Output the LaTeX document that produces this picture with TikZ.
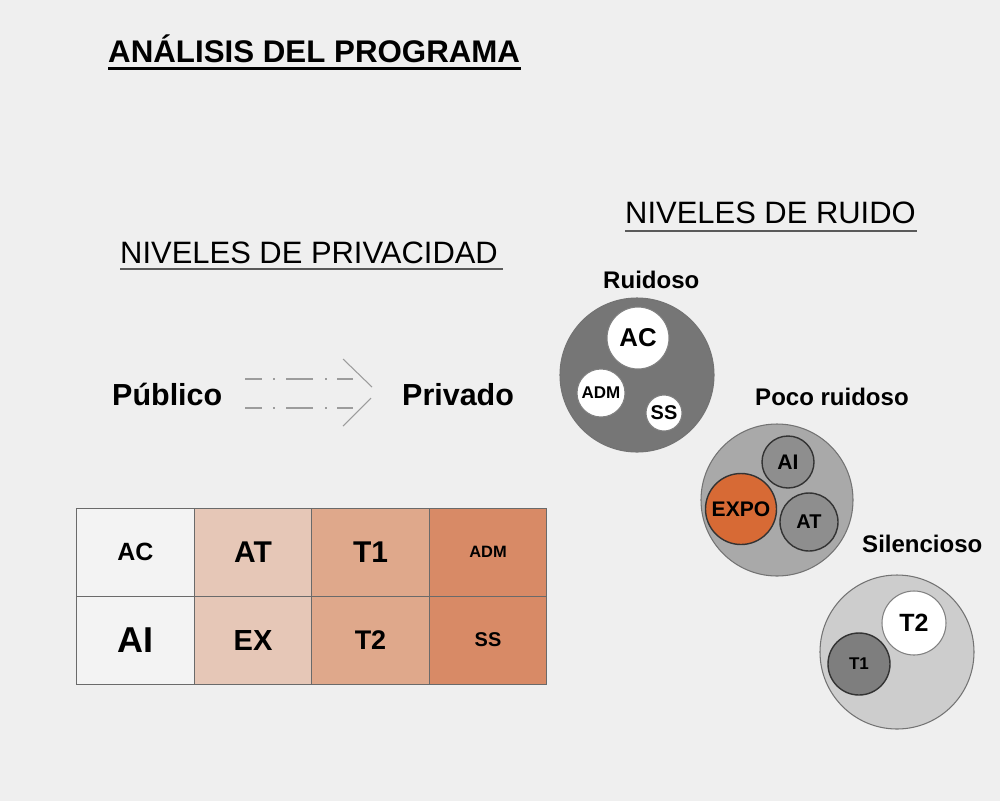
\documentclass[tikz,border=0pt]{standalone}
\usepackage{fontspec}
\setmainfont{Liberation Sans}
\newcommand{\fs}[1]{\fontsize{#1pt}{#1pt}\selectfont}
\definecolor{bgc}{HTML}{EFEFEF}
\definecolor{tbline}{HTML}{6A6A6A}
\definecolor{colA}{HTML}{F3F3F3}
\definecolor{colB}{HTML}{E6C7B7}
\definecolor{colC}{HTML}{DFA88B}
\definecolor{colD}{HTML}{D88A66}
\definecolor{ruidoC}{HTML}{767676}
\definecolor{pocoC}{HTML}{A9A9A9}
\definecolor{silC}{HTML}{CDCDCD}
\definecolor{midC}{HTML}{8E8E8E}
\definecolor{darkC}{HTML}{7E7E7E}
\definecolor{expoC}{HTML}{D76A35}
\definecolor{arrowC}{HTML}{9C9C9C}
\definecolor{ulC}{HTML}{5A5A5A}
\begin{document}
\begin{tikzpicture}[x=0.03cm,y=-0.03cm,
  lbl/.style={inner sep=0pt, anchor=base west},
  cell/.style={draw=tbline, line width=0.8pt, minimum width=3.525cm, minimum height=2.64cm, inner sep=0pt, font=\bfseries},
  circ/.style={circle, inner sep=0pt, minimum size=#1*0.06cm, font=\bfseries},
  bigc/.style={circ=#1, draw=black!55, line width=0.9pt},
  whitec/.style={circ=#1, fill=white, draw=black!50, line width=0.9pt},
  darkc/.style={circ=#1, draw=black!80, line width=1.2pt},
  shaft/.style={draw=arrowC, line width=0.9pt},
  ul/.style={draw=ulC, line width=1.2pt}
]
\fill[bgc] (0,0) rectangle (1000,801);
\useasboundingbox (0,0) rectangle (1000,801);

% Title
\node[lbl, font=\fs{26.7}\bfseries] (title) at (108,62) {ANÁLISIS DEL PROGRAMA};
\draw[line width=1.8pt] (108,68.5) -- (521,68.5);

% Headings
\node[lbl, font=\fs{26.4}] (hpriv) at (120,263) {NIVELES DE PRIVACIDAD};
\draw[ul] (120,269) -- (503,269);
\node[lbl, font=\fs{26.4}] (hruido) at (625,223) {NIVELES DE RUIDO};
\draw[ul] (625,231) -- (917,231);

% Publico -> Privado
\node[lbl, font=\fs{26}\bfseries] (pub) at (112,405) {Público};
\node[lbl, font=\fs{26}\bfseries] (priv) at (402,405) {Privado};
\foreach \yy in {379,408}{
  \draw[shaft] (245,\yy) -- (262,\yy);
  \draw[shaft] (273,\yy) -- (274.5,\yy);
  \draw[shaft] (286,\yy) -- (313,\yy);
  \draw[shaft] (325,\yy) -- (326.5,\yy);
  \draw[shaft] (337,\yy) -- (353,\yy);
}
\draw[shaft] (343,359) -- (372,387);
\draw[shaft] (371,398) -- (343,426);

% Table
\node[cell, fill=colA, font=\fs{21.3}\bfseries] (tAC) at (135.5,552) {AC};
\node[cell, fill=colB, font=\fs{25.6}\bfseries] (tAT) at (253,552) {AT};
\node[cell, fill=colC, font=\fs{25.6}\bfseries] (tT1) at (370.5,552) {T1};
\node[cell, fill=colD, font=\fs{14}\bfseries] (tADM) at (488,552) {ADM};
\node[cell, fill=colA, font=\fs{30.7}\bfseries] (tAI) at (135.5,640) {AI};
\node[cell, fill=colB, font=\fs{24.8}\bfseries] (tEX) at (253,640) {EX};
\node[cell, fill=colC, font=\fs{23}\bfseries] (tT2) at (370.5,640) {T2};
\node[cell, fill=colD, font=\fs{17}\bfseries] (tSS) at (488,640) {SS};

% Ruidoso
\node[lbl, font=\fs{20.5}\bfseries] (lruid) at (603,288) {Ruidoso};
\node[bigc=77, fill=ruidoC] (cruid) at (637,375) {};
\node[whitec=31, font=\fs{22}\bfseries] (rAC) at (638,338) {AC};
\node[whitec=24, font=\fs{14.5}\bfseries] (rADM) at (601,393) {ADM};
\node[whitec=18, font=\fs{17}\bfseries] (rSS) at (664,413) {SS};

% Poco ruidoso
\node[lbl, font=\fs{20.5}\bfseries] (lpoco) at (755,405) {Poco ruidoso};
\node[bigc=76, fill=pocoC] (cpoco) at (777,500) {};
\node[darkc=26, fill=midC, font=\fs{18}\bfseries] (pAI) at (788,462) {AI};
\node[darkc=35.5, fill=expoC, font=\fs{18}\bfseries] (pEXPO) at (741,509) {EXPO};
\node[darkc=29, fill=midC, font=\fs{17}\bfseries] (pAT) at (809,522) {AT};

% Silencioso
\node[lbl, font=\fs{20.5}\bfseries] (lsil) at (862,552) {Silencioso};
\node[bigc=77, fill=silC] (csil) at (897,652) {};
\node[whitec=32, font=\fs{21.3}\bfseries] (sT2) at (914,623) {T2};
\node[darkc=31, fill=darkC, font=\fs{14.5}\bfseries] (sT1) at (859,664) {T1};
\end{tikzpicture}
\end{document}
